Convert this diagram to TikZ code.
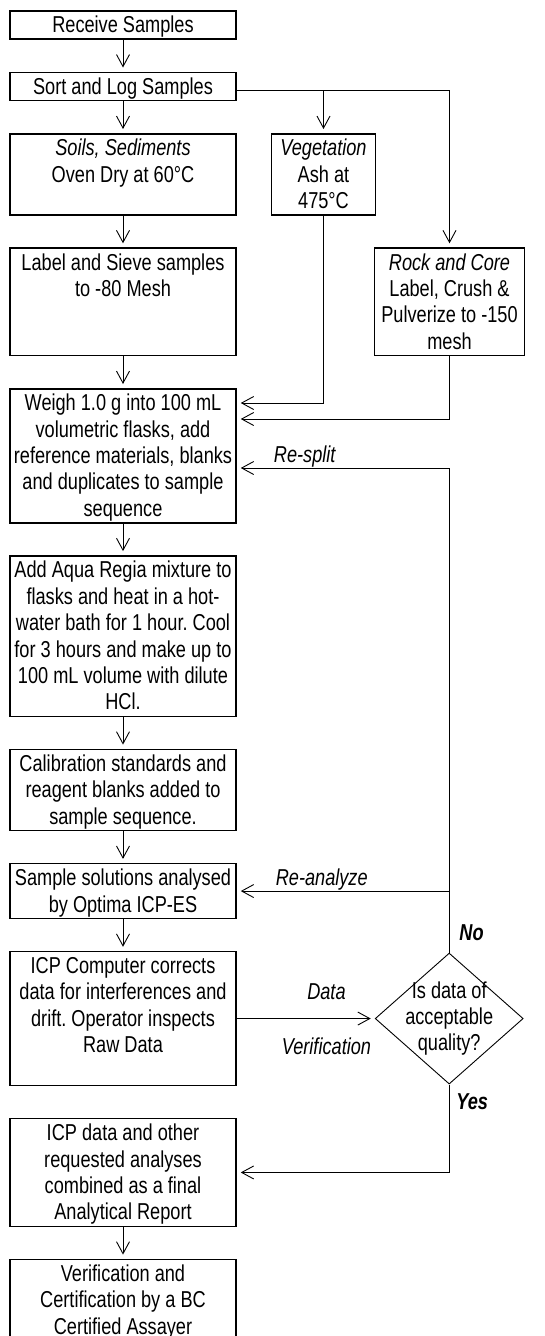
\documentclass[tikz,border=0pt]{standalone}
\usepackage{fontspec}
\setmainfont{Liberation Sans}[FakeStretch=0.79]
\usepackage{tikz}
\usetikzlibrary{positioning,arrows.meta,shapes.geometric}
\frenchspacing

\begin{document}
\begin{tikzpicture}[
            x=1pt, y=1pt,
            node distance=31.6pt,
            every node/.style={font=\fontsize{23pt}{26.4pt}\selectfont},
            stepbox/.style={rectangle, draw=black, line width=1.5pt, fill=white,
                           inner xsep=2pt, inner ysep=1pt, align=flush center, text height=21pt},
            wide/.style={text width=222pt},
            nlines/.style={text depth=#1*26.4pt-21pt},
            arrow/.style={-{Straight Barb[length=12pt,width=13pt]}, line width=0.9pt, shorten >=4pt},
            note/.style={font=\fontsize{23pt}{26.4pt}\selectfont\itshape, inner sep=0pt,
                        text height=21pt, text depth=5.5pt},
            flag/.style={note, font=\fontsize{23pt}{26.4pt}\selectfont\bfseries\itshape},
            decision/.style={diamond, draw=black, line width=0.9pt, fill=white,
                            minimum width=148pt, minimum height=131pt, inner sep=0pt}
        ]
            \useasboundingbox (0,0) rectangle (545,-1336);

            % sample preparation
            \node[stepbox, wide, nlines=1, anchor=north] (recv) at (123,-10) {Receive Samples};
            \node[stepbox, wide, nlines=1, below=of recv] (sort) {Sort and Log Samples};
            \node[stepbox, wide, nlines=3, below=of sort] (soils) {\textit{Soils, Sediments}\\Oven Dry at 60°C};
            \node[stepbox, nlines=3, text width=100pt, right=34pt of soils] (veg) {\textit{Vegetation}\\Ash at\\475°C};
            \node[stepbox, wide, nlines=4, below=of soils] (sieve) {Label and Sieve samples\\to -80 Mesh};
            \node[stepbox, nlines=4, text width=146pt, right=137pt of sieve] (rock) {\textit{Rock and Core}\\Label, Crush \&\\Pulverize to -150\\mesh};

            % digestion and analysis
            \node[stepbox, wide, nlines=5, below=of sieve] (weigh) {Weigh 1.0 g into 100 mL\\volumetric flasks, add\\reference materials, blanks\\and duplicates to sample\\sequence};
            \node[stepbox, wide, nlines=6, below=of weigh] (aqua) {Add Aqua Regia mixture to\\flasks and heat in a hot-\\water bath for 1 hour. Cool\\for 3 hours and make up to\\100 mL volume with dilute\\HCl.};
            \node[stepbox, wide, nlines=3, below=of aqua] (calib) {Calibration standards and\\reagent blanks added to\\sample sequence.};
            \node[stepbox, wide, nlines=2, below=of calib] (solns) {Sample solutions analysed\\by Optima ICP-ES};
            \node[stepbox, wide, nlines=5, below=of solns] (icp) {ICP Computer corrects\\data for interferences and\\drift. Operator inspects\\Raw Data};
            \node[decision, right=138pt of icp,
                  label={[align=center]center:Is data of\\acceptable\\quality?}] (qc) {};
            \node[flag, anchor=west] (no) at ([xshift=10pt,yshift=20pt]qc.north) {No};
            \node[flag, anchor=west] (yes) at ([xshift=7pt,yshift=-17pt]qc.south) {Yes};

            % reporting
            \node[stepbox, wide, nlines=4, below=of icp] (report) {ICP data and other\\requested analyses\\combined as a final\\Analytical Report};
            \node[stepbox, wide, nlines=3, below=of report] (cert) {Verification and\\Certification by a BC\\Certified Assayer};

            \draw[arrow] (recv) -- (sort);
            \draw[arrow] (sort) -- (soils);
            \draw[arrow] (soils) -- (sieve);
            \draw[arrow] (sieve) -- (weigh);
            \draw[arrow] (weigh) -- (aqua);
            \draw[arrow] (aqua) -- (calib);
            \draw[arrow] (calib) -- (solns);
            \draw[arrow] (solns) -- (icp);
            \draw[arrow] (report) -- (cert);

            % branches
            \draw[arrow] ([yshift=-4pt]sort.east) -| (rock);
            \draw[arrow] ([yshift=-4pt]sort.east -| veg) -- (veg);
            \draw[arrow] (veg) |- ([yshift=-15pt]weigh.north east);
            \draw[arrow] (rock) |- ([yshift=-31pt]weigh.north east);

            % checks
            \draw[arrow] (icp) -- node[note, above=13pt, pos=0.65] {Data}
                                  node[note, below=14pt, pos=0.65] {Verification} (qc);
            \draw[arrow] (qc) |- node[note, above, pos=0.84] {Re-split} ([yshift=-80pt]weigh.north east);
            \draw[arrow] (qc.north |- solns.east) -- node[note, above, pos=0.6] {Re-analyze} (solns.east);
            \draw[arrow] (qc) |- (report);
        \end{tikzpicture}
\end{document}
